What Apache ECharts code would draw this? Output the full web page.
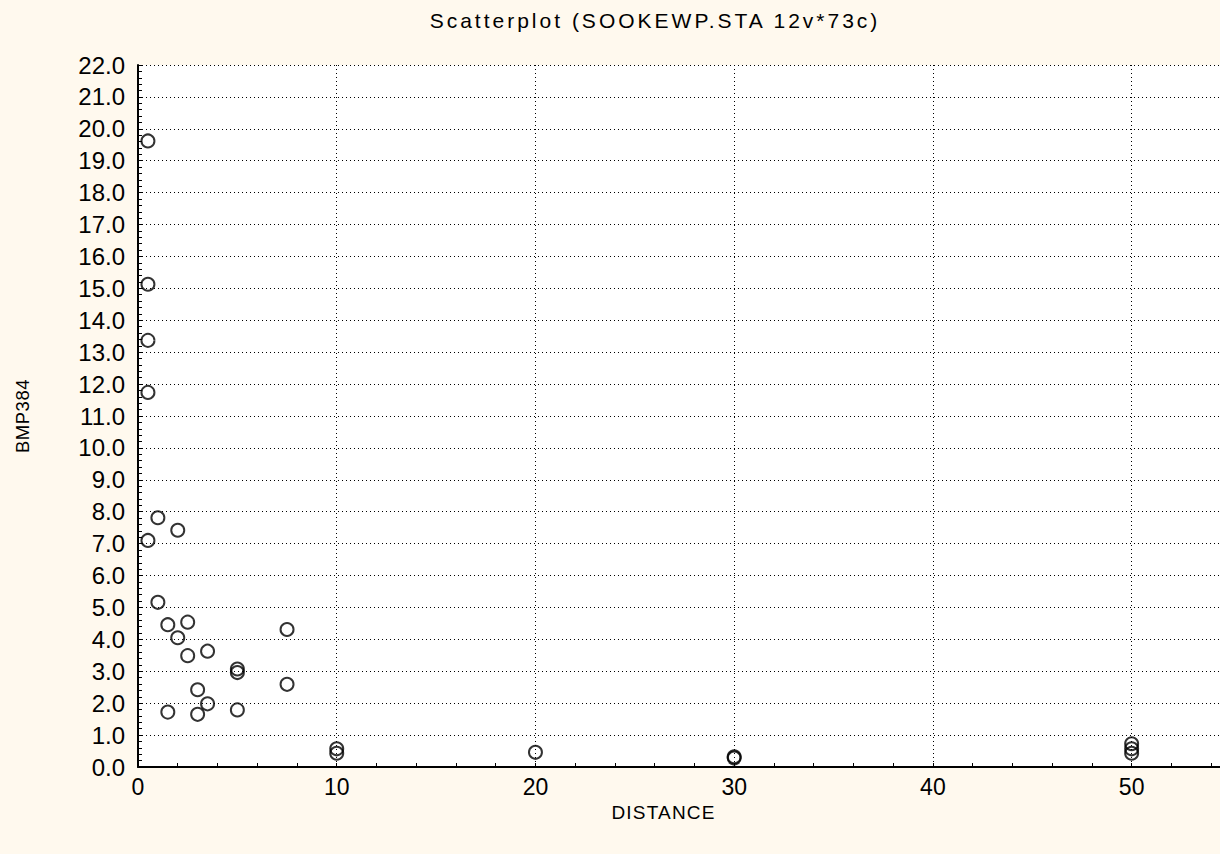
<!DOCTYPE html>
<html>
<head>
<meta charset="utf-8">
<script src="https://cdn.jsdelivr.net/npm/echarts@6/dist/echarts.min.js"></script>
<style>
html,body{margin:0;padding:0;background:#FFF9EE;}
#c{width:1220px;height:854px;}
</style>
</head>
<body>
<div id="c"></div>
<script>
const titleText = 'Scatterplot (SOOKEWP.STA 12v*73c)';
const xName = 'DISTANCE';
const yName = 'BMP384';
const distance = [0.5, 0.5, 0.5, 0.5, 1, 2, 0.5, 1, 1.5, 2.5, 2, 2.5, 3.5, 5, 5, 7.5, 3, 3.5, 1.5, 3, 5, 7.5, 10, 10, 20, 30, 30, 50, 50, 50];
const bmp384   = [19.62, 15.13, 13.37, 11.74, 7.81, 7.42, 7.10, 5.16, 4.46, 4.54, 4.05, 3.49, 3.63, 3.07, 2.96, 4.31, 2.42, 1.98, 1.72, 1.65, 1.79, 2.59, 0.57, 0.43, 0.46, 0.32, 0.28, 0.73, 0.57, 0.43];
const points = distance.map((d, i) => [d, bmp384[i]]);

const chart = echarts.init(document.getElementById('c'), null, {renderer: 'svg'});
const font = 'Liberation Sans, Arial, sans-serif';
chart.setOption({
  backgroundColor: '#FFF9EE',
  animation: false,
  title: {
    text: titleText,
    left: 650, top: 5, textAlign: 'center',
    textStyle: {fontFamily: font, fontSize: 21, fontWeight: 'normal', color: '#000'}
  },
  grid: {left: 138, top: 65, bottom: 87, right: -11, backgroundColor: '#fff', show: true, borderWidth: 0, outerBoundsMode: 'none', containLabel: false},
  xAxis: {
    type: 'value', min: 0, max: 55, interval: 10,
    name: xName, nameLocation: 'middle', nameGap: 32,
    nameTextStyle: {fontFamily: font, fontSize: 19, color: '#000', padding: [0, 42, 0, 0]},
    axisLine: {show: true, onZero: false, lineStyle: {color: '#000', width: 2}},
    axisTick: {show: true, inside: true, length: 4, lineStyle: {color: '#000'}},
    minorTick: {show: true, splitNumber: 5, length: 4, lineStyle: {color: '#000'}},
    axisLabel: {fontFamily: font, fontSize: 23, color: '#000', margin: 8,
      formatter: v => (v > 50 ? '' : String(v))},
    splitLine: {show: true, lineStyle: {color: '#000', type: [1, 3], width: 1}}
  },
  yAxis: {
    type: 'value', min: 0, max: 22, interval: 1,
    name: yName, nameLocation: 'middle', nameGap: 106, nameRotate: 90,
    nameTextStyle: {fontFamily: font, fontSize: 18.5, color: '#000'},
    axisLine: {show: true, onZero: false, lineStyle: {color: '#000', width: 2}},
    axisTick: {show: true, inside: true, length: 4, lineStyle: {color: '#000'}},
    minorTick: {show: true, splitNumber: 5, length: 4, lineStyle: {color: '#000'}},
    axisLabel: {fontFamily: font, fontSize: 24, color: '#000', margin: 13,
      formatter: v => v.toFixed(1)},
    splitLine: {show: true, lineStyle: {color: '#000', type: [1, 3], width: 1}}
  },
  series: [{
    type: 'scatter',
    data: points,
    symbol: 'circle',
    symbolSize: 13,
    itemStyle: {color: 'rgba(0,0,0,0)', borderColor: '#000', borderWidth: 2}
  }]
});

function spaceText() {
  const spacing = {};
  spacing[titleText] = '3px';
  spacing[xName] = '1.2px';
  spacing[yName] = '0.5px';
  document.querySelectorAll('#c svg text').forEach(t => {
    const s = spacing[t.textContent];
    if (s) t.style.letterSpacing = s;
  });
}
spaceText();
chart.on('finished', spaceText);
</script>
</body>
</html>
